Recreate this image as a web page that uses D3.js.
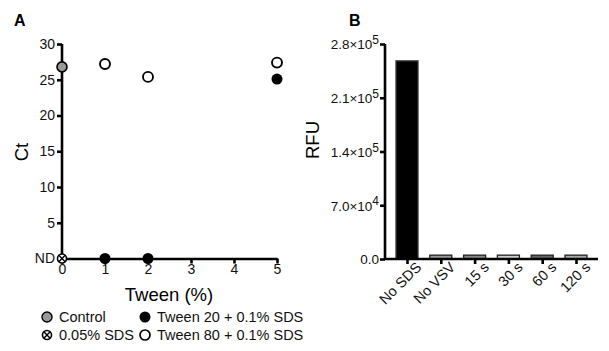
<!DOCTYPE html>
<html>
<head>
<meta charset="utf-8">
<script src="https://cdn.jsdelivr.net/npm/d3@7"></script>
<style>
  body { margin: 0; background: #fff; }
  svg { font-family: "Liberation Sans", Arial, sans-serif; }
  .axis path, .axis line { stroke: #000; stroke-width: 2.6px; }
</style>
</head>
<body>
<svg id="chart" width="609" height="351"></svg>
<script>
// Panel A data: Ct vs Tween (%), ND plotted as 0
var controlX = [0], controlY = [26.8];
var sdsX = [0], sdsY = [0];
var tween20X = [1, 2, 5], tween20Y = [0, 0, 25.1];
var tween80X = [1, 2, 5], tween80Y = [27.2, 25.4, 27.4];
var ctTicks = [5, 10, 15, 20, 25, 30];
var tweenTicks = [0, 1, 2, 3, 4, 5];

// Panel B data: RFU
var rfuCategories = ["No SDS", "No VSV", "15 s", "30 s", "60 s", "120 s"];
var rfuValues = [258000, 5000, 5000, 5000, 5000, 5000];
var rfuColors = ["#000", "#9a9a9a", "#888", "#cfcfcf", "#666", "#a8a8a8"];
var rfuTickMant = ["0.0", "7.0", "1.4", "2.1", "2.8"];
var rfuTickExp = [null, "4", "5", "5", "5"];
var rfuTickVals = [0, 70000, 140000, 210000, 280000];

var svg = d3.select('#chart');

// ---------- Panel A ----------
var xA = d3.scaleLinear().domain([0, 5]).range([62, 277]);
var yA = d3.scaleLinear().domain([0, 30]).range([258.5, 44]);

var gA = svg.append('g');

gA.append('text').attr('x', 14).attr('y', 26).text('A')
    .style('font-weight', 'bold').style('font-size', '16px');

// y axis
var yAxisA = d3.axisLeft(yA).tickValues(ctTicks).tickSize(5).tickSizeOuter(0);
var ya = gA.append('g').attr('class', 'axis').attr('transform', 'translate(62,0)').call(yAxisA);
ya.select('.domain').attr('d', 'M0,' + yA(30) + 'V' + yA(0));
// ND tick
ya.append('g').attr('transform', 'translate(0,' + yA(0) + ')')
    .call(function (g) {
        g.append('line').attr('x2', -5);
        g.append('text').attr('x', -8).attr('dy', '0.32em').attr('text-anchor', 'end').text('ND');
    });
ya.selectAll('text').attr('fill', '#111').style('font-size', '14px').attr('font-family', 'inherit').attr('x', -7);

// x axis
var xAxisA = d3.axisBottom(xA).tickValues(tweenTicks).tickSize(5).tickSizeOuter(0).tickFormat(d3.format('d'));
var xa = gA.append('g').attr('class', 'axis').attr('transform', 'translate(0,' + yA(0) + ')').call(xAxisA);
xa.selectAll('text').attr('fill', '#111').style('font-size', '14px').attr('font-family', 'inherit').attr('y', 5).attr('dy', '0.75em');

gA.append('text').attr('x', 169).attr('y', 301).attr('text-anchor', 'middle')
    .style('font-size', '18.5px').text('Tween (%)');
gA.append('text').attr('transform', 'translate(28,152) rotate(-90)').attr('text-anchor', 'middle')
    .style('font-size', '18.5px').text('Ct');

function zip(xs, ys) { return xs.map(function (x, i) { return [x, ys[i]]; }); }

function crossSymbol(sel, r) {
    sel.append('circle').attr('r', r).attr('fill', '#fff').attr('stroke', '#000').attr('stroke-width', 1.6);
    var k = r * 0.7;
    sel.append('path').attr('d', 'M' + -k + ',' + -k + 'L' + k + ',' + k + 'M' + k + ',' + -k + 'L' + -k + ',' + k)
        .attr('stroke', '#000').attr('stroke-width', 1.4);
}

var r = 5;
gA.selectAll('.t80').data(zip(tween80X, tween80Y)).enter().append('circle')
    .attr('cx', d => xA(d[0])).attr('cy', d => yA(d[1])).attr('r', r)
    .attr('fill', '#fff').attr('stroke', '#000').attr('stroke-width', 1.9);
gA.selectAll('.t20').data(zip(tween20X, tween20Y)).enter().append('circle')
    .attr('cx', d => xA(d[0])).attr('cy', d => yA(d[1])).attr('r', r + 0.5)
    .attr('fill', '#000');
gA.selectAll('.ctl').data(zip(controlX, controlY)).enter().append('circle')
    .attr('cx', d => xA(d[0])).attr('cy', d => yA(d[1])).attr('r', r)
    .attr('fill', '#999').attr('stroke', '#000').attr('stroke-width', 1.6);
gA.selectAll('.sds').data(zip(sdsX, sdsY)).enter().append('g')
    .attr('transform', d => 'translate(' + xA(d[0]) + ',' + yA(d[1]) + ')')
    .each(function () { crossSymbol(d3.select(this), 4.5); });

// legend
var legend = [
    { x: 47, y: 317, label: 'Control', kind: 'control' },
    { x: 145, y: 317, label: 'Tween 20 + 0.1% SDS', kind: 't20' },
    { x: 47, y: 335, label: '0.05% SDS', kind: 'sds' },
    { x: 145, y: 335, label: 'Tween 80 + 0.1% SDS', kind: 't80' }
];
var lg = gA.selectAll('.leg').data(legend).enter().append('g')
    .attr('transform', d => 'translate(' + d.x + ',' + d.y + ')');
lg.each(function (d) {
    var g = d3.select(this);
    if (d.kind === 'control') g.append('circle').attr('r', 5).attr('fill', '#999').attr('stroke', '#000').attr('stroke-width', 1.4);
    if (d.kind === 't20') g.append('circle').attr('r', 5.5).attr('fill', '#000');
    if (d.kind === 't80') g.append('circle').attr('r', 5).attr('fill', '#fff').attr('stroke', '#000').attr('stroke-width', 1.7);
    if (d.kind === 'sds') crossSymbol(g, 4.5);
    g.append('text').attr('x', 12).attr('dy', '0.36em').style('font-size', '14.5px').attr('fill', '#111').text(d.label);
});

// ---------- Panel B ----------
var xB = d3.scalePoint().domain(rfuCategories).range([407, 576]);
var yB = d3.scaleLinear().domain([0, 280000]).range([259, 44]);
var barW = 22;

var gB = svg.append('g');
gB.append('text').attr('x', 349).attr('y', 26).text('B')
    .style('font-weight', 'bold').style('font-size', '16px');

gB.selectAll('.bar').data(rfuValues).enter().append('rect')
    .attr('x', (d, i) => xB(rfuCategories[i]) - barW / 2)
    .attr('y', d => yB(d))
    .attr('width', barW)
    .attr('height', d => yB(0) - yB(d))
    .attr('fill', (d, i) => rfuColors[i])
    .attr('stroke', (d, i) => i === 0 ? '#333' : '#222')
    .attr('stroke-width', 1.3);

// y axis with minor ticks
var minor = d3.range(35000, 280000, 70000);
var yb = gB.append('g').attr('class', 'axis').attr('transform', 'translate(385,0)')
    .call(d3.axisLeft(yB).tickValues(minor).tickSize(3).tickFormat(''));
yb.call(d3.axisLeft(yB).tickValues(rfuTickVals).tickSize(5).tickSizeOuter(0).tickFormat(''));
yb.selectAll('.domain').attr('d', 'M0,' + yB(280000) + 'V' + yB(0));

yb.selectAll('.lbl').data(rfuTickVals).enter().append('text')
    .attr('x', -6).attr('y', d => yB(d)).attr('dy', '0.4em')
    .attr('text-anchor', 'end').attr('fill', '#111').style('font-size', '13.5px')
    .each(function (d, i) {
        var t = d3.select(this);
        if (rfuTickExp[i] === null) { t.text(rfuTickMant[i]); return; }
        t.append('tspan').text(rfuTickMant[i] + '×10');
        t.append('tspan').attr('dy', '-0.45em').style('font-size', '12px').text(rfuTickExp[i]);
    });

// x axis
var xb = gB.append('g').attr('class', 'axis').attr('transform', 'translate(0,' + yB(0) + ')')
    .call(d3.axisBottom(xB).tickSize(5).tickSizeOuter(0));
xb.select('.domain').attr('d', 'M384,0H598');
xb.selectAll('text').attr('fill', '#111').style('font-size', '14.5px').attr('font-family', 'inherit')
    .attr('text-anchor', 'end').attr('y', 6).attr('x', 4).attr('dy', '0.75em')
    .attr('transform', 'rotate(-45)');

gB.append('text').attr('transform', 'translate(319,140) rotate(-90)').attr('text-anchor', 'middle')
    .style('font-size', '18.5px').text('RFU');
</script>
</body>
</html>
